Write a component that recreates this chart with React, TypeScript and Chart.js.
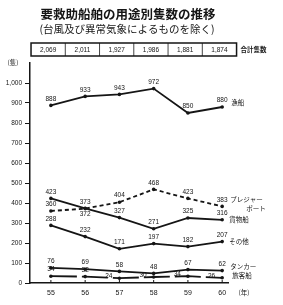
import React, { useEffect, useRef } from "react";
import { Chart, registerables } from "chart.js";

Chart.register(...registerables);

const years = [55, 56, 57, 58, 59, 60];
const totals = ["2,069", "2,011", "1,927", "1,986", "1,881", "1,874"];
const fishing = [888, 933, 943, 972, 850, 880];
const pleasure = [360, 372, 404, 468, 423, 383];
const cargo = [423, 373, 327, 271, 325, 316];
const others = [288, 232, 171, 197, 182, 207];
const tanker = [76, 69, 58, 48, 67, 62];
const passenger = [34, 32, 24, 30, 34, 26];
const yTicks = [0, 100, 200, 300, 400, 500, 600, 700, 800, 900, 1000];

const title = "要救助船舶の用途別隻数の推移";
const subtitle = "(台風及び異常気象によるものを除く)";
const totalLabel = "合計隻数";
const seriesNames = ["漁船", "プレジャー\nボート", "貨物船", "その他", "タンカー", "旅客船"];
const seriesData = [fishing, pleasure, cargo, others, tanker, passenger];

// label placement per series point: a = above, b = below, l = left
const placements = [
  ["a", "a", "a", "a", "a", "a"],
  ["a", "b", "a", "a", "a", "a"],
  ["a", "a", "a", "a", "a", "a"],
  ["a", "a", "a", "a", "a", "a"],
  ["a", "a", "a", "a", "a", "a"],
  ["a", "a", "l", "l", "l", "l"],
];
const nameOffsets = [[9, -4], [8, -7], [7, 0], [7, 0], [8, -4], [10, -2]];

const INK = "#151515";
const JP = "'Noto Sans CJK JP', 'Noto Sans', sans-serif";
const NUM = "'Liberation Sans', Arial, sans-serif";

const decorPlugin = {
  id: "decor",
  afterDraw(chart: any) {
    const ctx = chart.ctx;
    const xs = chart.scales.x;
    const ys = chart.scales.y;
    const area = chart.chartArea;
    ctx.save();
    ctx.fillStyle = INK;
    ctx.strokeStyle = INK;
    // titles
    ctx.textAlign = "center";
    ctx.textBaseline = "middle";
    ctx.font = `bold 12.5px ${JP}`;
    ctx.fillText(title, 128, 14);
    ctx.font = `10.5px ${JP}`;
    ctx.fillText(subtitle, 127, 29);
    // totals table
    const top = 43, h = 13;
    const x0 = xs.getPixelForValue(54.42);
    const x6 = xs.getPixelForValue(60.42);
    ctx.lineWidth = 1.5;
    ctx.strokeRect(x0, top, x6 - x0, h);
    ctx.lineWidth = 0.8;
    ctx.font = `6.5px ${NUM}`;
    for (let i = 0; i < totals.length; i++) {
      const a = xs.getPixelForValue(54.42 + i);
      const b = xs.getPixelForValue(55.42 + i);
      if (i > 0) {
        ctx.beginPath();
        ctx.moveTo(a, top);
        ctx.lineTo(a, top + h);
        ctx.stroke();
      }
      ctx.fillText(totals[i], (a + b) / 2, top + h / 2 + 0.5);
    }
    ctx.textAlign = "left";
    ctx.font = `bold 6.5px ${JP}`;
    ctx.fillText(totalLabel, x6 + 4, top + h / 2);
    // unit labels
    ctx.font = `6.5px ${JP}`;
    ctx.textAlign = "center";
    ctx.fillText("(隻)", 13, area.top);
    ctx.fillText("(年)", 244, 293);
    // small upward ticks on x axis
    ctx.lineWidth = 1;
    for (const yv of years) {
      const px = xs.getPixelForValue(yv);
      ctx.beginPath();
      ctx.moveTo(px, area.bottom);
      ctx.lineTo(px, area.bottom - 3);
      ctx.stroke();
    }
    // value labels
    ctx.font = `6.5px ${NUM}`;
    seriesData.forEach((arr, si) => {
      arr.forEach((v, i) => {
        const px = xs.getPixelForValue(years[i]);
        const py = ys.getPixelForValue(v);
        const p = placements[si][i];
        if (p === "a") {
          ctx.textAlign = "center";
          ctx.fillText(String(v), px, py - 6.5);
        } else if (p === "b") {
          ctx.textAlign = "center";
          ctx.fillText(String(v), px, py + 6);
        } else {
          ctx.textAlign = "right";
          ctx.fillText(String(v), px - 7, py - 2);
        }
      });
      // series names
      const last = arr.length - 1;
      const lx = xs.getPixelForValue(years[last]) + nameOffsets[si][0];
      const ly = ys.getPixelForValue(arr[last]) + nameOffsets[si][1];
      ctx.textAlign = "left";
      ctx.font = `6.5px ${JP}`;
      const lines = seriesNames[si].split("\n");
      lines.forEach((ln, k) => {
        ctx.fillText(ln, lx + k * 16, ly + k * 9);
      });
      ctx.font = `6.5px ${NUM}`;
    });
    ctx.restore();
  },
};

export default function App() {
  const ref = useRef<HTMLCanvasElement | null>(null);
  useEffect(() => {
    if (!ref.current) return;
    const mk = (data: number[], dash: number[] = [], width = 1.8) => ({
      data: data.map((v, i) => ({ x: years[i], y: v })),
      borderColor: INK,
      backgroundColor: INK,
      borderWidth: width,
      borderDash: dash,
      pointRadius: 1.8,
      pointBackgroundColor: INK,
      pointBorderWidth: 0,
      tension: 0,
    });
    const chart = new Chart(ref.current, {
      type: "line",
      data: {
        datasets: [
          mk(fishing),
          mk(pleasure, [4, 3]),
          mk(cargo),
          mk(others),
          mk(tanker),
          mk(passenger, [26, 5]),
        ],
      },
      plugins: [decorPlugin],
      options: {
        responsive: false,
        animation: false,
        layout: { padding: { top: 63, left: 0, right: 55, bottom: 0 } },
        plugins: { legend: { display: false }, tooltip: { enabled: false }, title: { display: false } },
        scales: {
          x: {
            type: "linear",
            min: 54.39,
            max: 60.17,
            afterBuildTicks: (s: any) => {
              s.ticks = years.map((v) => ({ value: v }));
            },
            afterFit: (s: any) => {
              s.height = 22;
            },
            grid: { display: false, drawTicks: false },
            border: { color: INK, width: 1.5 },
            ticks: {
              color: INK,
              font: { size: 7, family: NUM },
              padding: 6,
              autoSkip: false,
              maxRotation: 0,
              callback: (v: any) => String(v),
            },
          },
          y: {
            min: 0,
            max: 1100,
            afterBuildTicks: (s: any) => {
              s.ticks = yTicks.map((v) => ({ value: v }));
            },
            afterFit: (s: any) => {
              s.width = 30;
            },
            grid: { drawOnChartArea: false, tickLength: 5, color: INK, lineWidth: 1 },
            border: { color: INK, width: 1.5 },
            ticks: {
              color: INK,
              font: { size: 6.5, family: NUM },
              padding: 3,
              callback: (v: any) => Number(v).toLocaleString("en-US"),
            },
          },
        },
      },
    } as any);
    return () => chart.destroy();
  }, []);
  return (
    <div style={{ position: "absolute", left: 0, top: 0, width: 283, height: 305, background: "#fff" }}>
      <canvas ref={ref} width={283} height={305} style={{ width: 283, height: 305 }} />
    </div>
  );
}
